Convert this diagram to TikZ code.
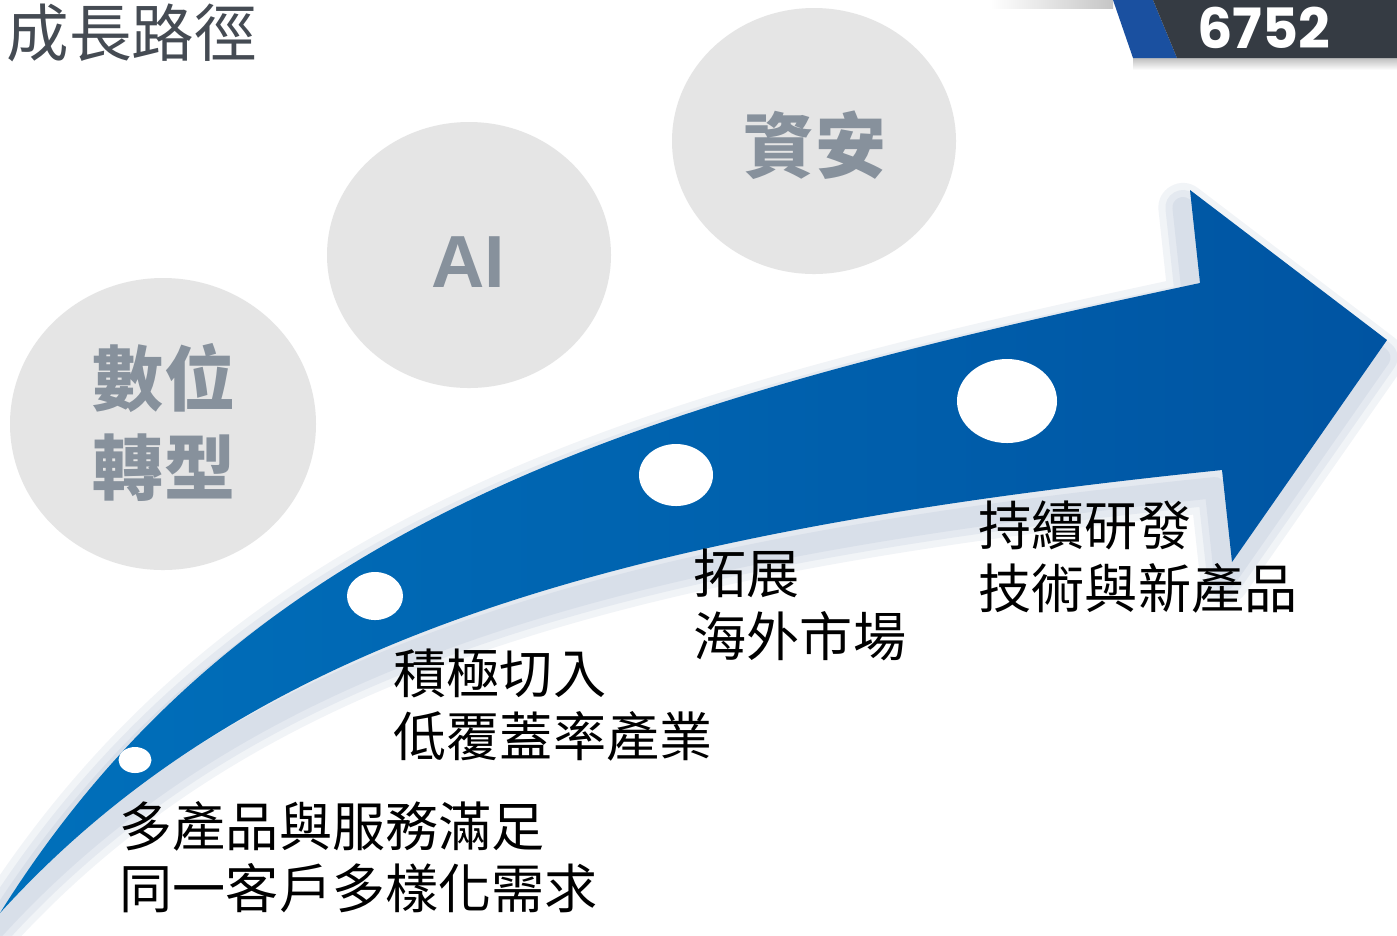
\documentclass[tikz,border=0pt]{standalone}
\usepackage{fontspec}
\usepackage{tikz}
\setmainfont{Liberation Sans}
\newfontfamily\cjkfont{Noto Sans CJK TC}
\newfontfamily\codefont{Poppins}
\definecolor{titlegray}{RGB}{69,75,83}
\definecolor{topicgray}{RGB}{122,133,145}
\definecolor{bubblegray}{RGB}{229,229,229}
\definecolor{arrowblueA}{RGB}{0,112,187}
\definecolor{arrowblueB}{RGB}{0,84,162}
\definecolor{glowblue}{RGB}{70,100,150}
\definecolor{badgeblue}{RGB}{26,80,160}
\definecolor{badgedark}{RGB}{53,59,67}
\newcommand{\growthpath}{(0,913) .. controls (250,513) and (650,400) .. (1200,283) -- (1190,190) -- (1387,340) -- (1232,562) -- (1222,470) .. controls (620,532) and (250,638) .. (0,913) -- cycle}
\tikzset{
  topic/.style={font=\cjkfont\bfseries\fontsize{20.2pt}{25.3pt}\selectfont, text=topicgray!90, align=center, inner sep=0},
  steptext/.style={font=\cjkfont\fontsize{15.1pt}{17.8pt}\selectfont, align=left, anchor=west, inner sep=0},
  milestone/.style={fill=white}
}

\begin{document}
\begin{tikzpicture}[x=0.01cm,y=-0.01cm]
\fill[white] (0,0) rectangle (1397,935);
\useasboundingbox (0,0) rectangle (1397,935);
%% badge
\shade[left color=white,right color=gray!45] (990,0) rectangle (1113,8);
\shade[top color=gray!50,bottom color=white] (1133,58) rectangle (1397,70);
\fill[badgeblue] (1113,0) -- (1153,0) -- (1177,58) -- (1133,58) -- cycle;
\fill[badgedark] (1153,0) -- (1397,0) -- (1397,58) -- (1177,58) -- cycle;
\node[text=white, font=\codefont\bfseries\fontsize{15.8pt}{18pt}\selectfont, inner sep=0] (code) at (1264,28) {6752};
\node[anchor=west, inner sep=0, text=titlegray, font=\cjkfont\fontsize{17.8pt}{20pt}\selectfont] (title) at (6,33) {成長路徑};
%% bubbles
\fill[bubblegray] (163,424) ellipse (153 and 146);
\fill[bubblegray] (469,255) ellipse (142 and 133);
\fill[bubblegray] (814,141) ellipse (142 and 133);
\node[topic] (digital) at (164,422) {數位\\轉型};
\node[topic, font=\bfseries\fontsize{21pt}{25pt}\selectfont] (ai) at (468,262) {AI};
\node[topic] (security) at (815,145) {資安};
%% arrow
\foreach \w in {14,10,6}
  \draw[glowblue, line width=\w pt, opacity=0.07, line join=round, xshift=-2pt, yshift=-5pt] \growthpath;
\shade[left color=arrowblueA, right color=arrowblueB] \growthpath;
%draw milestones
\fill[milestone] (135,760) ellipse (16.5 and 13);
\fill[milestone] (375,596) ellipse (28 and 24);
\fill[milestone] (676,475) ellipse (37 and 31);
\fill[milestone] (1007,401) ellipse (50 and 42);
%% labels
\node[steptext] (stepone) at (119,857) {多產品與服務滿足\\同一客戶多樣化需求};
\node[steptext] (steptwo) at (393,705) {積極切入\\低覆蓋率產業};
\node[steptext] (stepthree) at (693,605) {拓展\\海外市場};
\node[steptext] (stepfour) at (978,557) {持續研發\\技術與新產品};
\end{tikzpicture}
\end{document}
